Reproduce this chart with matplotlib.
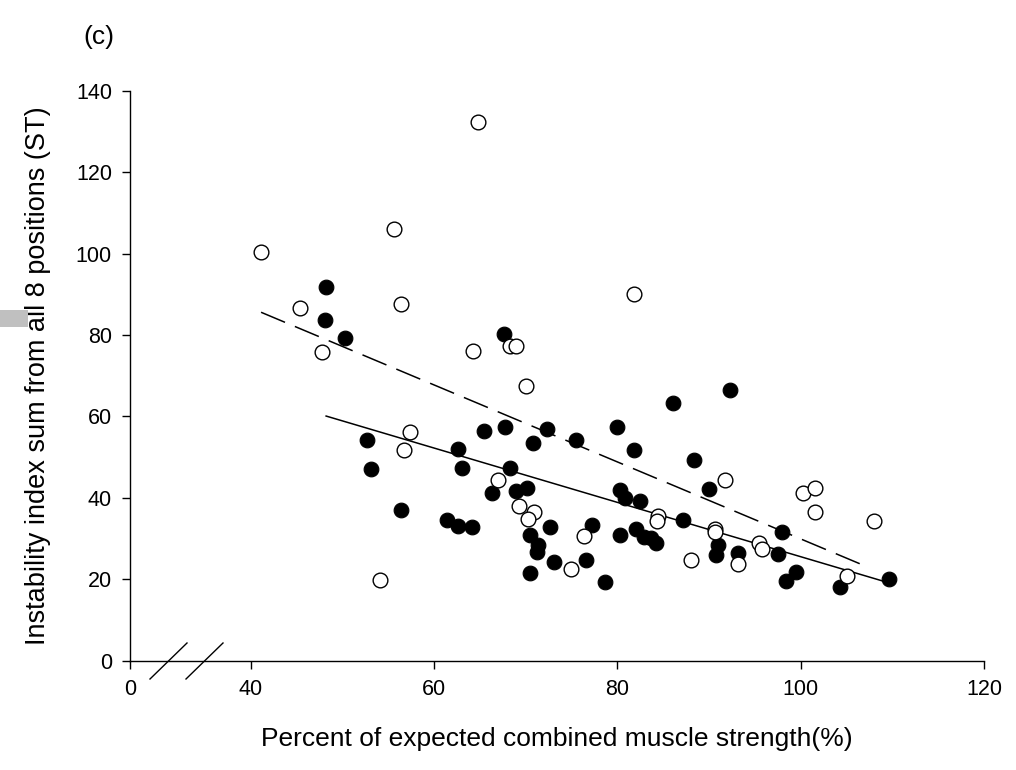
import matplotlib
matplotlib.use('Agg')
import matplotlib.pyplot as plt
from matplotlib.patches import Rectangle
from matplotlib.lines import Line2D

plt.rcParams['font.family'] = ['Liberation Sans', 'DejaVu Sans']

#
# DATA
#
# filled circles
filled_x = [48.2, 48.1, 50.3, 52.7, 53.1, 56.4, 61.4, 62.6, 62.6, 63.0, 64.1, 65.4, 66.3,
            67.6, 67.7, 72.3, 70.8, 75.5, 80.0, 81.8, 88.4, 86.1, 92.3, 68.3, 68.9, 70.1,
            80.3, 80.8, 82.5, 90.0, 72.6, 70.5, 71.3, 71.2, 73.1, 70.5, 76.6, 78.6, 77.2,
            80.3, 82.0, 82.9, 83.7, 84.2, 87.1, 91.0, 90.8, 93.1, 97.9, 97.5, 99.5, 98.4,
            104.3, 109.6]
filled_y = [91.7, 83.7, 79.2, 54.2, 47.2, 36.9, 34.5, 51.9, 33.2, 47.3, 32.9, 56.4, 41.3,
            80.3, 57.3, 56.9, 53.4, 54.1, 57.3, 51.8, 49.3, 63.3, 66.5, 47.4, 41.8, 42.4,
            42.0, 39.9, 39.3, 42.1, 32.8, 30.9, 28.4, 26.8, 24.3, 21.5, 24.7, 19.4, 33.4,
            30.9, 32.3, 30.3, 30.2, 28.9, 34.6, 28.4, 25.9, 26.4, 31.5, 26.2, 21.8, 19.6,
            18.0, 20.0]

# open circles
open_x = [41.1, 55.6, 45.3, 47.8, 56.4, 64.8, 64.2, 68.3, 68.9, 70.0, 81.8, 56.7, 57.4,
          54.1, 67.0, 91.7, 100.2, 101.6, 101.6, 108.0, 69.3, 70.9, 70.2, 74.9, 76.3,
          84.4, 84.3, 90.6, 90.6, 93.2, 88.0, 95.4, 95.8, 105.0]
open_y = [100.4, 106.1, 86.7, 75.9, 87.7, 132.3, 76.2, 77.2, 77.3, 67.6, 90.1, 51.7, 56.3,
          19.7, 44.4, 44.4, 41.1, 42.4, 36.5, 34.2, 38.0, 36.5, 34.8, 22.5, 30.6,
          35.6, 34.4, 32.3, 31.5, 23.8, 24.7, 28.9, 27.5, 20.8]

# regression lines (end points)
solid_x = [48.2, 109.5]
solid_y = [60.1, 19.2]
dashed_x = [41.1, 107.2]
dashed_y = [85.6, 23.1]

xticks = [40, 60, 80, 100, 120]
yticks = [0, 20, 40, 60, 80, 100, 120, 140]

# axis break: "0" sits this far left of 40 on the drawn scale
x_zero = 40 - 121 / 9.167

#
# FIGURE
#
fig = plt.figure(figsize=(10.16, 7.7), dpi=100)
ax = fig.add_axes([0.128, 0.142, 0.8405, 0.740])

ax.scatter(filled_x, filled_y, s=112, c='black', edgecolors='black', linewidths=0.8, zorder=3)
ax.scatter(open_x, open_y, s=112, c='white', edgecolors='black', linewidths=1.0, zorder=3)

ax.plot(solid_x, solid_y, color='black', lw=1.1, zorder=2)
ax.plot(dashed_x, dashed_y, color='black', lw=1.1, dashes=(17, 7), zorder=2)

ax.set_xlim(x_zero, 120)
ax.set_ylim(0, 140)
ax.set_xticks([x_zero] + xticks)
ax.set_xticklabels(['0'] + [str(t) for t in xticks])
ax.set_yticks(yticks)

for side in ['top', 'right']:
    ax.spines[side].set_visible(False)
for side in ['left', 'bottom']:
    ax.spines[side].set_linewidth(1.0)
ax.tick_params(direction='out', length=6, width=1.0, labelsize=15.5, pad=7)

ax.set_xlabel('Percent of expected combined muscle strength(%)', fontsize=19, labelpad=20)
ax.set_ylabel('Instability index sum from all 8 positions (ST)', fontsize=19.5, labelpad=18)

# break marks on the x axis
for x0 in [150, 186]:
    fig.add_artist(Line2D([x0 / 1016, (x0 + 37) / 1016], [1 - 679 / 770, 1 - 643 / 770],
                          color='black', lw=1.0))

fig.text(0.082, 0.952, '(c)', fontsize=19, ha='left', va='center')

# grey block at the left edge
fig.add_artist(Rectangle((0, 1 - 327 / 770), 28 / 1016, 17 / 770, transform=fig.transFigure,
                         facecolor='#c0c0c0', edgecolor='none'))

fig.savefig('out.png', dpi=100)
